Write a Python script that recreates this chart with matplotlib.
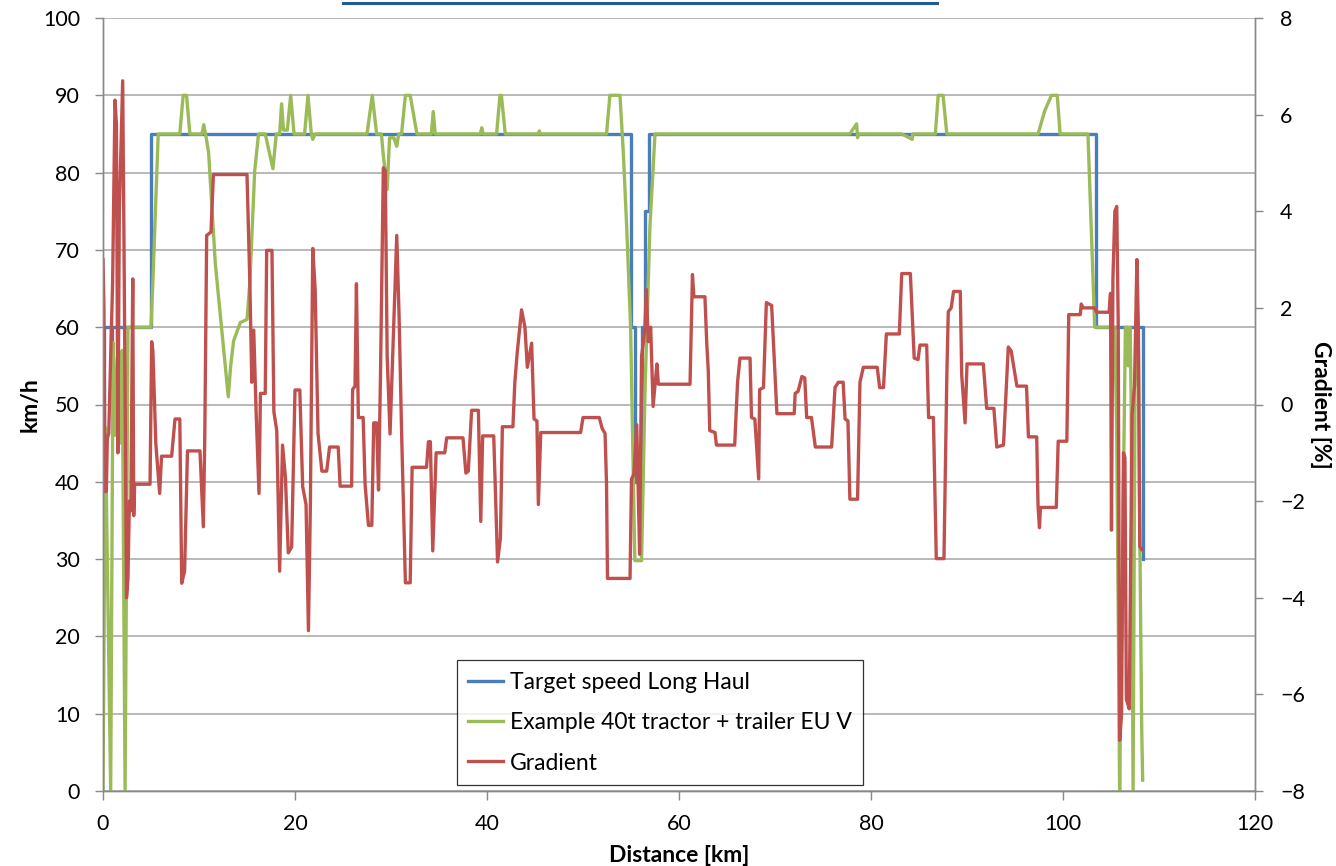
import matplotlib
matplotlib.use("Agg")
import matplotlib.pyplot as plt
from matplotlib.lines import Line2D

plt.rcParams['font.family'] = ['Lato', 'DejaVu Sans']

# ---------------- data ----------------
blue_km = [0, 0.1, 0.8, 0.9, 5.0, 55.0, 55.4, 56.1, 56.5, 56.9, 103.4, 108.3, 108.35]
blue_speed = [38, 60, 55, 60, 85, 60, 40, 60, 75, 85, 60, 30, 30]

green_km = [0.0, 0.25, 0.45, 0.8, 1.05, 1.3, 1.5, 1.75, 2.0, 2.3, 2.6, 5.0, 5.2, 5.75,
            8.0, 8.35, 8.7, 9.05, 10.3, 10.5, 10.75, 11.0, 11.7, 13.05, 13.3, 13.6, 14.3,
            15.0, 15.3, 15.8, 16.2, 16.9, 17.4, 17.7, 18.05, 18.4, 18.6, 18.8, 19.2, 19.55,
            19.9, 21.0, 21.35, 21.7, 21.85, 22.1, 27.5, 28.05, 28.5, 29.0, 29.2, 29.6, 29.85,
            30.3, 30.6, 30.8, 31.1, 31.5, 32.0, 32.7, 34.2, 34.4, 34.6, 39.3, 39.45, 39.6,
            41.0, 41.35, 41.5, 41.9, 45.35, 45.45, 45.55, 52.45, 52.8, 53.85, 54.2, 54.55,
            54.96, 55.4, 56.1, 56.45, 56.97, 57.5, 77.8, 78.5, 78.6, 78.65, 83.2, 84.3, 84.35,
            86.7, 87.0, 87.5, 87.9, 97.4, 98.1, 98.8, 99.4, 99.7, 102.6, 103.3, 104.9, 105.4,
            105.6, 105.9, 106.1, 106.5, 106.7, 106.8, 107.0, 107.1, 107.3, 107.5, 107.7,
            107.85, 108.0, 108.2, 108.3]
green_speed = [0, 47, 30, 0, 58, 46, 56, 45, 57, 0, 60, 60, 66, 85,
               85, 90, 90, 85, 85, 86.2, 84.5, 82.6, 68.2, 51, 55, 58.2, 60.6,
               61, 65.8, 80.2, 85, 85, 82.2, 80.5, 85, 85, 88.9, 85.5, 85.5, 90,
               85, 85, 90, 85, 84.3, 85, 85, 90, 85, 85, 82.2, 77.8, 84.5,
               84.5, 83.4, 85, 85, 90, 90, 85, 85, 87.9, 85, 85, 85.8, 85,
               85, 90, 90, 85, 85, 85.4, 85, 85, 90, 90, 82.6, 73,
               60, 29.8, 29.8, 51.4, 73, 85, 85, 86.3, 84.5, 85, 85, 84.3, 85,
               85, 90, 90, 85, 85, 88, 90, 90, 85, 85, 60, 60, 60,
               45.6, 0, 20, 60, 60, 55, 60, 50, 0, 52, 60,
               58, 33, 8, 1.4]

grad_km = [0.0, 0.1, 0.2, 0.35, 0.45, 0.6, 0.8, 1.0, 1.25, 1.4, 1.55, 1.7, 2.05, 2.2,
           2.45, 2.6, 2.75, 2.9, 3.1, 3.2, 3.3, 4.9, 5.07, 5.2, 5.5, 5.9, 6.1, 7.15, 7.5,
           8.0, 8.2, 8.5, 8.8, 10.1, 10.45, 10.6, 10.8, 11.25, 11.5, 15.0, 15.3, 15.5,
           15.7, 15.95, 16.25, 16.4, 16.9, 17.05, 17.6, 17.8, 18.1, 18.4, 18.7, 19.0,
           19.3, 19.65, 20.0, 20.5, 20.8, 21.15, 21.4, 21.6, 21.85, 22.1, 22.4, 22.8,
           23.3, 23.6, 24.5, 24.7, 25.9, 26.0, 26.25, 26.4, 26.6, 27.1, 27.3, 27.65,
           28.0, 28.2, 28.5, 28.7, 28.9, 29.2, 29.4, 29.6, 29.9, 30.3, 30.6, 30.85,
           31.1, 31.5, 32.0, 32.2, 33.7, 33.9, 34.1, 34.35, 34.7, 35.6, 35.8, 37.5,
           37.8, 38.05, 38.4, 39.1, 39.35, 39.55, 40.7, 41.1, 41.4, 41.6, 42.7, 42.9,
           43.15, 43.6, 43.95, 44.2, 44.65, 44.9, 45.2, 45.35, 45.6, 49.75, 50.0, 51.7,
           52.0, 52.3, 52.45, 52.55, 54.9, 55.05, 55.3, 55.6, 55.9, 56.1, 56.3, 56.45,
           56.6, 56.8, 57.05, 57.3, 57.7, 57.85, 61.15, 61.4, 61.55, 62.7, 62.9, 63.05,
           63.2, 63.75, 63.9, 65.8, 66.1, 66.35, 67.4, 67.55, 67.9, 68.3, 68.4, 68.8,
           69.1, 69.65, 70.2, 72.0, 72.1, 72.4, 72.8, 73.1, 73.3, 73.8, 74.2, 75.9,
           76.25, 76.6, 77.1, 77.3, 77.6, 77.8, 78.6, 78.85, 79.2, 80.65, 80.9, 81.3,
           81.6, 82.95, 83.2, 84.1, 84.5, 84.9, 85.1, 85.8, 86.0, 86.5, 86.8, 87.6,
           87.9, 88.05, 88.35, 88.6, 89.3, 89.45, 89.8, 90.0, 91.7, 92.05, 92.8, 93.1,
           93.8, 94.3, 94.6, 95.2, 96.2, 96.4, 97.26, 97.4, 97.55, 97.65, 99.3, 99.5,
           100.4, 100.6, 101.8, 101.9, 102.1, 103.3, 103.5, 104.8, 104.95, 105.05,
           105.2, 105.4, 105.6, 105.75, 105.9, 106.1, 106.3, 106.45, 106.6, 106.9,
           107.2, 107.45, 107.7, 107.85, 108.0, 108.2]
grad_pct = [3.0, 2.0, -1.8, -1.8, -0.7, -0.6, 1.0, 2.5, 6.3, 5.8, -1.0, 4.0, 6.7, 3.0,
            -4.0, -3.6, -2.0, -2.2, 2.6, -2.3, -1.65, -1.65, 1.3, 1.1, -0.8, -1.84, -1.07, -1.07, -0.3,
            -0.3, -3.7, -3.45, -0.96, -0.96, -2.53, -0.7, 3.5, 3.57, 4.76, 4.76, 2.5, 0.46,
            1.54, -0.15, -1.84, 0.23, 0.23, 3.19, 3.19, -0.15, -0.54, -3.45, -0.84, -1.5,
            -3.07, -2.95, 0.3, 0.3, -1.7, -2.07, -4.68, -2.1, 3.23, 2.38, -0.6, -1.38,
            -1.38, -0.88, -0.88, -1.69, -1.69, 0.31, 0.38, 2.5, -0.27, -0.27, -1.65, -2.5,
            -2.5, -0.38, -0.38, -1.77, 0.54, 4.9, 4.84, 1.0, -0.61, 1.77, 3.5, 1.77,
            -0.54, -3.69, -3.69, -1.3, -1.3, -0.77, -0.77, -3.03, -1.0, -1.0, -0.69, -0.69,
            -1.42, -1.38, -0.12, -0.12, -2.42, -0.65, -0.65, -3.26, -2.76, -0.46, -0.46, 0.46,
            1.08, 1.96, 1.6, 0.77, 1.27, -0.3, -0.34, -2.07, -0.58, -0.58, -0.27, -0.27,
            -0.5, -0.6, -1.65, -3.6, -3.6, -1.54, -1.45, -0.42, -3.1, 1.0, 1.3, 1.61,
            2.38, 1.3, 1.6, -0.04, 0.84, 0.42, 0.42, 2.69, 2.23, 2.23, 1.23, 0.7,
            -0.54, -0.58, -0.84, -0.84, 0.46, 0.96, 0.96, -0.27, -0.3, -1.54, 0.31, 0.35,
            2.11, 2.05, -0.19, -0.19, 0.23, 0.27, 0.58, 0.55, -0.27, -0.27, -0.88, -0.88,
            0.35, 0.46, 0.46, -0.3, -0.34, -1.96, -1.96, 0.46, 0.77, 0.77, 0.35, 0.35,
            1.46, 1.46, 2.71, 2.71, 0.96, 0.93, 1.23, 1.23, -0.27, -0.27, -3.19, -3.19,
            0.61, 1.92, 2.0, 2.34, 2.34, 0.61, -0.38, 0.84, 0.84, -0.08, -0.08, -0.88,
            -0.84, 1.19, 1.11, 0.38, 0.38, -0.67, -0.67, -2.1, -2.55, -2.13, -2.13, -0.76,
            -0.76, 1.86, 1.86, 2.08, 2.0, 2.0, 1.91, 1.91, 2.3, -2.6,
            2.6, 4.0, 4.1, 1.7, -6.95, -6.4, -1.0, -1.1, -6.1, -6.3,
            -0.2, 0.4, 3.0, 1.6, -2.94, -3.0]

x_ticks = [0, 20, 40, 60, 80, 100, 120]
speed_ticks = list(range(0, 101, 10))
grad_ticks = [-8, -6, -4, -2, 0, 2, 4, 6, 8]

labels = ["Target speed Long Haul", "Example 40t tractor + trailer EU V", "Gradient"]
c_blue, c_green, c_red = "#4A7EBB", "#9BBB59", "#C0504D"

# ---------------- figure ----------------
fig = plt.figure(figsize=(13.36, 8.66), dpi=100)
ax = fig.add_axes([103/1336, 75/866, 1152/1336, 773/866])
ax2 = ax.twinx()

lw = 2.4
l1, = ax.plot(blue_km, blue_speed, color=c_blue, lw=lw, drawstyle='steps-post', label=labels[0])
l2, = ax.plot(green_km, green_speed, color=c_green, lw=lw, label=labels[1])
l3, = ax2.plot(grad_km, grad_pct, color=c_red, lw=lw, label=labels[2])

ax.set_xlim(0, 120)
ax.set_ylim(0, 100)
ax2.set_ylim(-8, 8)
ax.set_xticks(x_ticks)
ax.set_yticks(speed_ticks)
ax2.set_yticks(grad_ticks)

ax.yaxis.grid(True, color='#A6A6A6', lw=1.1)
ax.set_axisbelow(True)

for a in (ax, ax2):
    a.spines['top'].set_visible(False)
    for s in ('left', 'right', 'bottom'):
        a.spines[s].set_color('#888888')
        a.spines[s].set_linewidth(1.0)

fs = 15.5
fl = 16.5
ax.tick_params(axis='y', labelsize=fs, length=6, width=1, color='#888888', pad=10.5)
ax.tick_params(axis='x', labelsize=fs, length=6.5, width=1, color='#888888', pad=10)
ax2.tick_params(axis='y', labelsize=fs, length=6, width=1, color='#888888', pad=12)

ax.set_xlabel("Distance [km]", fontsize=fl, fontweight='bold', labelpad=8)
ax.set_ylabel("km/h", fontsize=fl, fontweight='bold', labelpad=2)
ax2.set_ylabel("Gradient [%]", fontsize=fl, fontweight='bold', rotation=270, labelpad=19)

leg = ax2.legend(handles=[l1, l2, l3], loc='lower left', bbox_to_anchor=(0.3073, 0.0078),
                 fontsize=fl, frameon=True, fancybox=False, edgecolor='black',
                 handlelength=1.5, handletextpad=0.3, labelspacing=0.85,
                 borderpad=0.5, borderaxespad=0)
leg.get_frame().set_linewidth(0.9)

# cropped title underline at the top edge
fig.add_artist(Line2D([343/1336, 937/1336], [1 - 2.5/866, 1 - 2.5/866],
                      color='#1F5C99', lw=2.2, transform=fig.transFigure))

fig.savefig("out.png", dpi=100)
